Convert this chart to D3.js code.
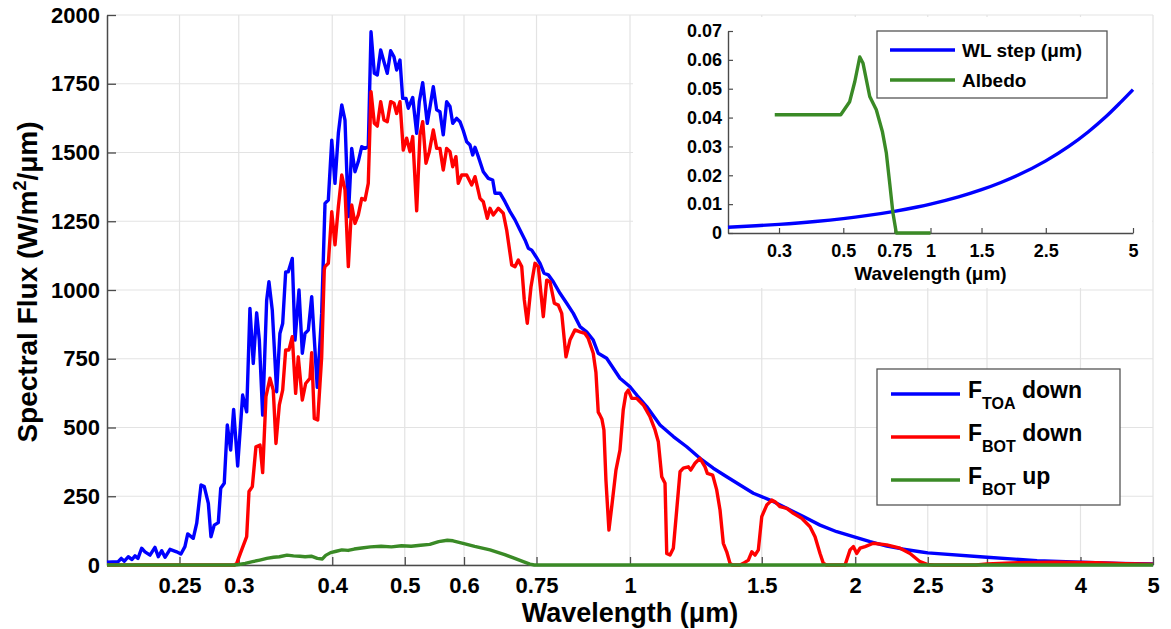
<!DOCTYPE html>
<html>
<head>
<meta charset="utf-8">
<script src="https://cdn.jsdelivr.net/npm/d3@7"></script>
<style>
body { margin: 0; background: #fff; }
text { font-family: "Liberation Sans", Arial, sans-serif; font-weight: bold; fill: #000; }
</style>
</head>
<body>
<svg id="chart" width="1171" height="629"></svg>
<script>
// spectral flux, [wavelength um, W/m2/um]
const toaDown = [[0.200,10],[0.207,12],[0.209,24],[0.211,14],[0.2135,30],[0.216,20],[0.218,33],[0.220,24],[0.2225,61],[0.2248,48],[0.2283,36],[0.2318,64],[0.2342,30],[0.2367,52],[0.2391,28],[0.2428,57],[0.2478,48],[0.2511,40],[0.2542,67],[0.2564,113],[0.2608,97],[0.2636,152],[0.2671,291],[0.2698,285],[0.2732,224],[0.2754,103],[0.2782,145],[0.2817,154],[0.2838,279],[0.2869,297],[0.2896,509],[0.2926,418],[0.2953,566],[0.2990,360],[0.3036,618],[0.3074,557],[0.3105,933],[0.3137,733],[0.3170,917],[0.3196,818],[0.3229,545],[0.3269,963],[0.3292,1030],[0.3326,927],[0.3371,630],[0.3405,842],[0.3434,878],[0.3466,1066],[0.3494,1066],[0.3537,1115],[0.3567,818],[0.3611,1000],[0.3648,770],[0.3678,842],[0.3716,854],[0.3755,976],[0.3820,646],[0.3872,915],[0.3912,1315],[0.3952,1327],[0.3994,1545],[0.4034,1388],[0.4076,1570],[0.4119,1673],[0.4160,1618],[0.4203,1267],[0.4247,1515],[0.4290,1430],[0.4334,1467],[0.4380,1521],[0.4424,1515],[0.4469,1521],[0.4507,1939],[0.4553,1788],[0.4595,1782],[0.4643,1873],[0.4690,1830],[0.4738,1788],[0.4788,1870],[0.4837,1848],[0.4877,1800],[0.4927,1836],[0.4968,1697],[0.5019,1697],[0.5055,1661],[0.5124,1700],[0.5187,1570],[0.5229,1685],[0.5284,1754],[0.5359,1606],[0.5459,1739],[0.5516,1655],[0.5572,1648],[0.5629,1564],[0.5688,1685],[0.5747,1667],[0.5795,1606],[0.5866,1624],[0.5926,1612],[0.5986,1580],[0.6050,1539],[0.6112,1527],[0.6163,1491],[0.6207,1519],[0.6270,1485],[0.6367,1430],[0.6466,1406],[0.6554,1400],[0.6600,1352],[0.6703,1352],[0.6806,1321],[0.6913,1285],[0.7020,1255],[0.7128,1218],[0.7239,1182],[0.7313,1152],[0.7390,1145],[0.7488,1121],[0.7581,1097],[0.7675,1061],[0.7777,1055],[0.7898,1030],[0.8062,988],[0.8230,952],[0.8399,915],[0.8573,867],[0.8751,848],[0.8930,818],[0.9069,770],[0.9306,752],[0.9696,679],[1.0000,648],[1.0209,618],[1.0528,576],[1.0968,509],[1.1427,467],[1.1907,430],[1.2404,388],[1.2921,352],[1.3467,321],[1.4029,291],[1.4617,261],[1.5388,236],[1.6200,206],[1.7049,176],[1.7946,145],[1.8893,121],[1.9884,103],[2.0933,85],[2.2037,69],[2.3192,58],[2.4413,48],[2.5,44],[3.0,28],[3.5,16],[4.0,10],[4.5,6],[5.0,4]];

const botDown = [[0.200,0],[0.296,0],[0.2981,6],[0.3027,55],[0.3074,103],[0.3096,267],[0.3128,285],[0.3163,430],[0.3203,436],[0.3229,336],[0.3262,612],[0.3302,679],[0.3336,636],[0.3364,442],[0.3399,582],[0.3434,636],[0.3466,782],[0.3501,782],[0.3537,830],[0.3574,624],[0.3603,757],[0.3648,600],[0.3686,660],[0.3735,679],[0.3755,772],[0.3785,533],[0.3825,527],[0.3872,757],[0.3903,1073],[0.3912,1085],[0.3952,1097],[0.3994,1285],[0.4034,1164],[0.4076,1303],[0.4119,1418],[0.4160,1364],[0.4203,1085],[0.4247,1309],[0.4290,1242],[0.4334,1273],[0.4380,1333],[0.4424,1327],[0.4469,1388],[0.4507,1721],[0.4553,1606],[0.4595,1596],[0.4643,1685],[0.4690,1618],[0.4738,1612],[0.4788,1685],[0.4837,1679],[0.4877,1642],[0.4927,1685],[0.4977,1509],[0.5029,1552],[0.5081,1503],[0.5124,1558],[0.5187,1288],[0.5240,1564],[0.5284,1612],[0.5337,1461],[0.5392,1503],[0.5459,1582],[0.5516,1515],[0.5572,1515],[0.5629,1436],[0.5688,1515],[0.5747,1503],[0.5795,1448],[0.5853,1485],[0.5895,1388],[0.5957,1418],[0.6050,1418],[0.6144,1382],[0.6207,1412],[0.6303,1333],[0.6367,1321],[0.6446,1261],[0.6500,1297],[0.6566,1273],[0.6668,1297],[0.6771,1279],[0.6842,1218],[0.6949,1091],[0.7020,1085],[0.7091,1109],[0.7166,1085],[0.7223,964],[0.7290,879],[0.7374,1012],[0.7465,1097],[0.7541,1085],[0.7658,903],[0.7739,1036],[0.7818,1030],[0.7922,952],[0.8020,945],[0.8105,915],[0.8212,757],[0.8313,818],[0.8442,855],[0.8573,848],[0.8706,842],[0.8794,824],[0.8930,770],[0.9005,700],[0.9069,556],[0.9116,545],[0.9173,530],[0.9229,491],[0.9286,309],[0.9372,127],[0.9459,218],[0.9577,345],[0.9696,418],[0.9794,564],[0.9876,624],[0.9946,636],[1.0053,606],[1.0209,606],[1.0419,582],[1.0636,539],[1.0801,491],[1.0911,448],[1.1026,321],[1.1138,297],[1.1197,42],[1.1311,36],[1.1427,61],[1.1546,200],[1.1664,339],[1.1783,352],[1.1966,357],[1.2054,345],[1.2215,370],[1.2404,388],[1.2597,357],[1.2687,333],[1.2898,327],[1.3058,273],[1.3192,200],[1.3326,79],[1.3467,48],[1.3604,6],[1.3700,0],[1.4029,0],[1.4172,6],[1.4394,18],[1.4546,48],[1.4693,36],[1.4844,55],[1.5000,176],[1.5232,218],[1.5469,236],[1.5627,230],[1.5870,212],[1.6200,206],[1.6532,188],[1.6964,170],[1.7403,139],[1.7673,103],[1.7946,42],[1.8130,6],[1.8300,0],[1.9383,0],[1.9684,55],[1.9884,67],[2.0094,42],[2.0298,61],[2.0613,67],[2.1146,79],[2.2037,73],[2.2957,61],[2.3675,42],[2.4413,12],[2.4946,2],[2.55,0],[2.9,0],[3.0,4],[3.3,8],[3.7,10],[4.2,8],[4.6,5],[5.0,3]];

const botUp = [[0.200,0],[0.296,0],[0.300,2],[0.306,6],[0.313,12],[0.320,18],[0.327,24],[0.334,28],[0.340,30],[0.348,36],[0.355,33],[0.362,32],[0.368,30],[0.375,32],[0.382,24],[0.388,22],[0.392,35],[0.398,45],[0.405,50],[0.412,55],[0.420,53],[0.428,58],[0.438,62],[0.450,66],[0.465,68],[0.480,66],[0.495,70],[0.510,68],[0.525,72],[0.540,75],[0.555,85],[0.570,90],[0.580,88],[0.600,78],[0.620,68],[0.650,55],[0.680,38],[0.700,25],[0.720,12],[0.735,3],[0.745,0],[5.0,0]];

// inset: wavelength step and surface albedo
const wlStep = [[0.2,0.002],[0.25,0.0025],[0.3,0.003],[0.4,0.004],[0.5,0.005],[0.6,0.006],[0.75,0.0075],[0.9,0.009],[1,0.01],[1.25,0.0125],[1.5,0.015],[1.75,0.0175],[2,0.02],[2.5,0.025],[3,0.03],[3.5,0.035],[4,0.04],[4.5,0.045],[5,0.0497]];
const albedo = [[0.29,0.041],[0.49,0.041],[0.526,0.0455],[0.548,0.0525],[0.570,0.061],[0.585,0.0588],[0.617,0.0473],[0.650,0.0427],[0.682,0.0352],[0.704,0.0277],[0.723,0.0173],[0.742,0.0069],[0.762,0],[1.0,0]];

const xTicks = [0.25, 0.3, 0.4, 0.5, 0.6, 0.75, 1, 1.5, 2, 2.5, 3, 4, 5];
const yTicks = [0, 250, 500, 750, 1000, 1250, 1500, 1750, 2000];
const insetXTicks = [0.3, 0.5, 0.75, 1, 1.5, 2.5, 5];
const insetYTicks = [0, 0.01, 0.02, 0.03, 0.04, 0.05, 0.06, 0.07];

const blue = "#0000ff", red = "#ff0000", green = "#3a8a26";
const gridColor = "#e3e3e3", axisColor = "#4a4a4a";
const lw = 3.4;

const svg = d3.select("#chart");

const x = d3.scaleLog().domain([0.2, 5]).range([107, 1153]);
const y = d3.scaleLinear().domain([0, 2000]).range([565, 15]);

// grid
const grid = svg.append("g");
grid.selectAll(".gx").data(xTicks).enter().append("line")
    .attr("x1", d => x(d)).attr("x2", d => x(d))
    .attr("y1", y(0)).attr("y2", y(2000))
    .attr("stroke", gridColor).attr("stroke-width", 1.2);
grid.selectAll(".gy").data(yTicks).enter().append("line")
    .attr("x1", x(0.2)).attr("x2", x(5))
    .attr("y1", d => y(d)).attr("y2", d => y(d))
    .attr("stroke", gridColor).attr("stroke-width", 1.2);

// main axes
const xAxis = svg.append("g")
    .attr("transform", `translate(0,${y(0)})`)
    .call(d3.axisBottom(x).tickValues(xTicks).tickFormat(d => String(d))
        .tickSizeInner(-8).tickSizeOuter(0).tickPadding(12));
const yAxis = svg.append("g")
    .attr("transform", `translate(${x(0.2)},0)`)
    .call(d3.axisLeft(y).tickValues(yTicks).tickFormat(d => String(d))
        .tickSizeInner(-9).tickSizeOuter(0).tickPadding(7));
[xAxis, yAxis].forEach(a => {
    a.selectAll("text").style("font-size", "22px").attr("fill", "#000");
    a.selectAll("line").attr("stroke", axisColor).attr("stroke-width", 1.3);
    a.select(".domain").attr("stroke", axisColor).attr("stroke-width", 1.5);
});

svg.append("text")
    .attr("x", (x(0.2) + x(5)) / 2).attr("y", 622)
    .attr("text-anchor", "middle").style("font-size", "27px")
    .text("Wavelength (\u03bcm)");

const ylab = svg.append("text")
    .attr("transform", "translate(37,282) rotate(-90)")
    .attr("text-anchor", "middle").style("font-size", "28px");
ylab.append("tspan").text("Spectral Flux (W/m");
ylab.append("tspan").attr("dy", -11).style("font-size", "18px").text("2");
ylab.append("tspan").attr("dy", 11).text("/\u03bcm)");

// curves
const line = d3.line().x(d => x(d[0])).y(d => y(d[1]));
[[toaDown, blue], [botDown, red], [botUp, green]].forEach(([data, color]) => {
    svg.append("path")
        .datum(data)
        .attr("d", line)
        .attr("fill", "none")
        .attr("stroke", color)
        .attr("stroke-width", lw)
        .attr("stroke-linejoin", "round");
});

// main legend
const legend = svg.append("g");
legend.append("rect")
    .attr("x", 877).attr("y", 369).attr("width", 243).attr("height", 136)
    .attr("fill", "#fff").attr("stroke", "#555").attr("stroke-width", 1.3);
const legendItems = [
    { sub: "TOA", rest: " down", color: blue },
    { sub: "BOT", rest: " down", color: red },
    { sub: "BOT", rest: " up", color: green }
];
legendItems.forEach((item, i) => {
    const ly = 394 + i * 43;
    legend.append("line")
        .attr("x1", 891).attr("x2", 960).attr("y1", ly).attr("y2", ly)
        .attr("stroke", item.color).attr("stroke-width", lw);
    const t = legend.append("text")
        .attr("x", 968).attr("y", ly + 4).style("font-size", "23px");
    t.append("tspan").text("F");
    t.append("tspan").attr("dy", 11).style("font-size", "16px").text(item.sub);
    t.append("tspan").attr("dy", -11).text(item.rest);
});

// inset
const xi = d3.scaleLog().domain([0.2, 5]).range([728, 1133]);
const yi = d3.scaleLinear().domain([0, 0.07]).range([233, 31]);

const inset = svg.append("g");
inset.append("rect")
    .attr("x", 633).attr("y", 17).attr("width", 519).attr("height", 271)
    .attr("fill", "#fff");

const xiAxis = inset.append("g")
    .attr("transform", `translate(0,${yi(0)})`)
    .call(d3.axisBottom(xi).tickValues(insetXTicks).tickFormat(d => String(d))
        .tickSizeInner(-5).tickSizeOuter(0).tickPadding(11));
const yiAxis = inset.append("g")
    .attr("transform", `translate(${xi(0.2)},0)`)
    .call(d3.axisLeft(yi).tickValues(insetYTicks).tickFormat(d => String(d))
        .tickSizeInner(-5).tickSizeOuter(0).tickPadding(6));
[xiAxis, yiAxis].forEach(a => {
    a.selectAll("text").style("font-size", "18px").attr("fill", "#000");
    a.selectAll("line").attr("stroke", axisColor).attr("stroke-width", 1.2);
    a.select(".domain").attr("stroke", axisColor).attr("stroke-width", 1.4);
});
inset.append("text")
    .attr("x", (xi(0.2) + xi(5)) / 2).attr("y", 280)
    .attr("text-anchor", "middle").style("font-size", "19px")
    .text("Wavelength (\u03bcm)");

const iline = d3.line().curve(d3.curveMonotoneX).x(d => xi(d[0])).y(d => yi(d[1]));
const aline = d3.line().x(d => xi(d[0])).y(d => yi(d[1]));
inset.append("path").datum(wlStep).attr("d", iline)
    .attr("fill", "none").attr("stroke", blue).attr("stroke-width", lw);
inset.append("path").datum(albedo).attr("d", aline)
    .attr("fill", "none").attr("stroke", green).attr("stroke-width", lw)
    .attr("stroke-linejoin", "round");

inset.append("rect")
    .attr("x", 877).attr("y", 31).attr("width", 230).attr("height", 67)
    .attr("fill", "#fff").attr("stroke", "#555").attr("stroke-width", 1.3);
[["WL step (\u03bcm)", blue], ["Albedo", green]].forEach(([name, color], i) => {
    const ly = 50 + i * 30;
    inset.append("line")
        .attr("x1", 890).attr("x2", 955).attr("y1", ly).attr("y2", ly)
        .attr("stroke", color).attr("stroke-width", lw);
    inset.append("text")
        .attr("x", 962).attr("y", ly + 7).style("font-size", "19px")
        .text(name);
});
</script>
</body>
</html>
